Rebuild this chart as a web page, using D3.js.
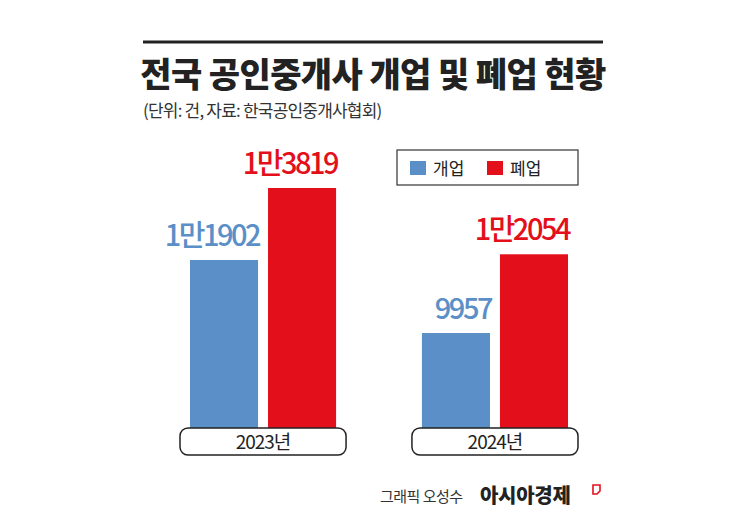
<!DOCTYPE html>
<html><head><meta charset="utf-8">
<script src="https://cdn.jsdelivr.net/npm/d3@7"></script>
<style>body{margin:0;background:#fff}</style>
</head><body>
<svg id="c" width="745" height="526"></svg>
<script>
const years = ["2023년", "2024년"];
const seriesNames = ["개업", "폐업"];
const openValues = [11902, 9957];
const closeValues = [13819, 12054];
const valueLabels = [["1만1902", "1만3819"], ["9957", "1만2054"]];
const colors = ["#5b8fc7", "#e3101b"];

const svg = d3.select("#c");
const font = "'Noto Sans CJK KR', sans-serif";
svg.append("line").attr("x1",143).attr("x2",603).attr("y1",42).attr("y2",42).attr("stroke","#222").attr("stroke-width",3);
svg.append("text").attr("x",373).attr("y",87).attr("text-anchor","middle").attr("font-family",font).attr("font-weight",900).attr("font-size",34).attr("fill","#222").attr("letter-spacing",-0.6).text("전국 공인중개사 개업 및 폐업 현황");
svg.append("text").attr("x",143).attr("y",117).attr("font-family",font).attr("font-size",17).attr("fill","#333").attr("letter-spacing",-0.8).text("(단위: 건, 자료: 한국공인중개사협회)");

const x0 = d3.scaleBand().domain(years).range([180,578]).paddingInner(0.284);
const x1 = d3.scaleBand().domain(seriesNames).range([0,x0.bandwidth()]).paddingInner(0.128).paddingOuter(0.128);
const y = d3.scaleLinear().domain([7428, 13819]).range([428, 188]);

years.forEach((yr,i)=>{
  const vals=[openValues[i], closeValues[i]];
  const g=svg.append("g").attr("transform",`translate(${x0(yr)},0)`);
  seriesNames.forEach((s,j)=>{
    g.append("rect").attr("x",x1(s)).attr("width",x1.bandwidth()).attr("y",y(vals[j])).attr("height",428-y(vals[j])).attr("fill",colors[j]);
    g.append("text").attr("x",x1(s)+x1.bandwidth()+1).attr("y",y(vals[j])-14).attr("text-anchor","end")
      .attr("font-family",font).attr("font-weight",500).attr("font-size",29).attr("letter-spacing",-2.5).attr("fill",colors[j]).text(valueLabels[i][j]);
  });
  g.append("rect").attr("x",0).attr("y",428).attr("width",x0.bandwidth()).attr("height",27).attr("rx",8).attr("fill","#fff").attr("stroke","#222").attr("stroke-width",1.5);
  g.append("text").attr("x",x0.bandwidth()/2).attr("y",449).attr("text-anchor","middle").attr("font-family",font).attr("font-size",19).attr("letter-spacing",-1).attr("fill","#222").text(yr);
});

const lg=svg.append("g");
lg.append("rect").attr("x",397).attr("y",150).attr("width",181).attr("height",35).attr("fill","#fff").attr("stroke","#333").attr("stroke-width",1.2);
seriesNames.forEach((s,j)=>{
  const lx=410+j*77;
  lg.append("rect").attr("x",lx).attr("y",161).attr("width",16).attr("height",14).attr("fill",colors[j]);
  lg.append("text").attr("x",lx+23).attr("y",175).attr("font-family",font).attr("font-size",17).attr("fill","#222").text(s);
});

svg.append("text").attr("x",380).attr("y",502).attr("font-family",font).attr("font-size",15).attr("fill","#333").attr("letter-spacing",-0.5).text("그래픽 오성수");
svg.append("text").attr("x",480).attr("y",503).attr("font-family",font).attr("font-weight",900).attr("font-size",20).attr("fill","#222").attr("letter-spacing",-0.3).text("아시아경제");
svg.append("path").attr("d","M593,485 h7 v6 l-3,3 h-4 z").attr("fill","none").attr("stroke","#e3101b").attr("stroke-width",1.6);
</script>
</body></html>
